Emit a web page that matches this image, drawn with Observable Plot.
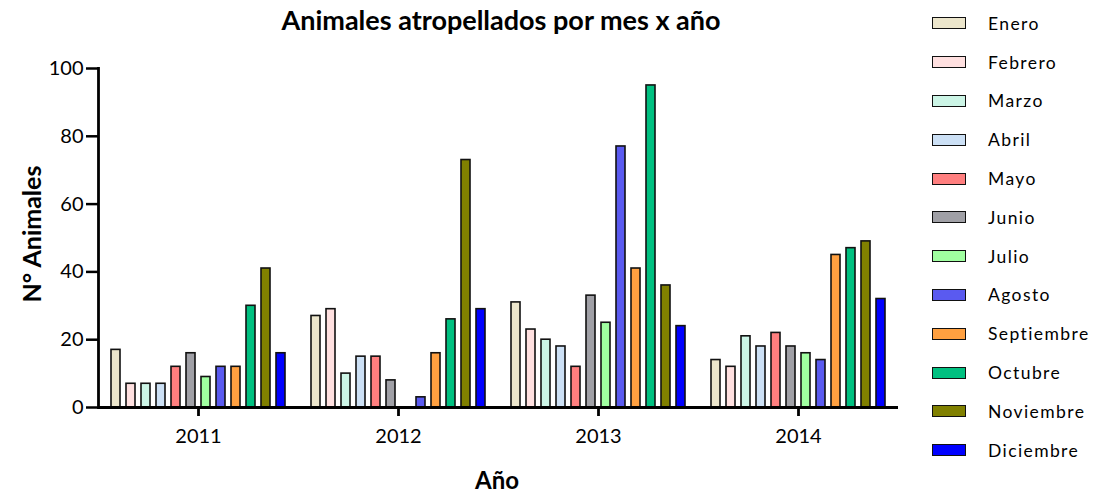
<!DOCTYPE html>
<html>
<head>
<meta charset="utf-8">
<script src="https://cdn.jsdelivr.net/npm/d3@7"></script>
<script src="https://cdn.jsdelivr.net/npm/@observablehq/plot@0.6"></script>
<style>
  html, body { margin: 0; padding: 0; background: #fff; }
  #wrap { position: relative; width: 1095px; height: 493px; font-family: Lato, "Open Sans", sans-serif; color: #000; }
  #chart { position: absolute; left: 0; top: 0; }
  .title { position: absolute; left: 0; width: 1002px; top: 3px; text-align: center; font-weight: bold; font-size: 27px; }
  .xlabel { position: absolute; left: 97px; width: 800px; top: 465px; text-align: center; font-weight: bold; font-size: 24px; }
  .ylabel { position: absolute; left: 31px; top: 234px; transform: translate(-50%, -50%) rotate(-90deg); font-weight: bold; font-size: 25px; white-space: nowrap; }
  #legend { position: absolute; left: 932px; top: 4px; }
  .item { display: flex; align-items: center; height: 38.8px; }
  .sw { width: 32px; height: 10px; border: 1.6px solid #111; margin-right: 22px; }
  .lab { font-size: 17.5px; letter-spacing: 1.4px; }
</style>
</head>
<body>
<div id="wrap">
  <div id="chart"></div>
  <div class="title">Animales atropellados por mes x año</div>
  <div class="ylabel">N° Animales</div>
  <div class="xlabel">Año</div>
  <div id="legend"></div>
</div>
<script>
const years = ["2011", "2012", "2013", "2014"];
const months = ["Enero", "Febrero", "Marzo", "Abril", "Mayo", "Junio", "Julio", "Agosto", "Septiembre", "Octubre", "Noviembre", "Diciembre"];
const colors = ["#ECE6CC", "#FFE0E0", "#CCF5E6", "#CCE0F5", "#FF7F7F", "#A0A0A6", "#A0FFA0", "#5A5AF0", "#FFA040", "#00C080", "#808000", "#0000FF"];
const v2011 = [17, 7, 7, 7, 12, 16, 9, 12, 12, 30, 41, 16];
const v2012 = [27, 29, 10, 15, 15, 8, 0, 3, 16, 26, 73, 29];
const v2013 = [31, 23, 20, 18, 12, 33, 25, 77, 41, 95, 36, 24];
const v2014 = [14, 12, 21, 18, 22, 18, 16, 14, 45, 47, 49, 32];
const yTicks = [0, 20, 40, 60, 80, 100];

const series = [v2011, v2012, v2013, v2014];
const data = years.flatMap((yr, i) => months.map((m, j) => ({year: yr, month: m, value: series[i][j]})));

const chart = Plot.plot({
  width: 920,
  height: 493,
  marginLeft: 97,
  marginRight: 22,
  marginTop: 68,
  marginBottom: 86,
  style: {fontFamily: "Lato, 'Open Sans', sans-serif", fontSize: "20px", color: "#000", background: "transparent", overflow: "visible"},
  fx: {domain: years, padding: 0, label: null, axis: null},
  x: {domain: months, paddingInner: 0.4, paddingOuter: 0.53, axis: null},
  y: {domain: [0, 100], label: null},
  color: {domain: months, range: colors},
  marks: [
    Plot.barY(data.filter(d => d.value > 0), {fx: "year", x: "month", y: "value", fill: "month", stroke: "#111", strokeWidth: 1.6}),
    Plot.ruleY([0], {stroke: "#000", strokeWidth: 2.8}),
    Plot.frame({anchor: "left", facetAnchor: "left", stroke: "#000", strokeWidth: 2.8}),
    Plot.axisY({ticks: yTicks, tickSize: 12, tickPadding: 3, strokeWidth: 2.5, label: null}),
    Plot.axisFx({anchor: "bottom", tickSize: 9, tickPadding: 12, strokeWidth: 2.8, label: null})
  ]
});
document.getElementById("chart").appendChild(chart);

const legend = document.getElementById("legend");
months.forEach((m, i) => {
  const item = document.createElement("div");
  item.className = "item";
  const sw = document.createElement("div");
  sw.className = "sw";
  sw.style.background = colors[i];
  const lab = document.createElement("span");
  lab.className = "lab";
  lab.textContent = m;
  item.appendChild(sw);
  item.appendChild(lab);
  legend.appendChild(item);
});
</script>
</body>
</html>
